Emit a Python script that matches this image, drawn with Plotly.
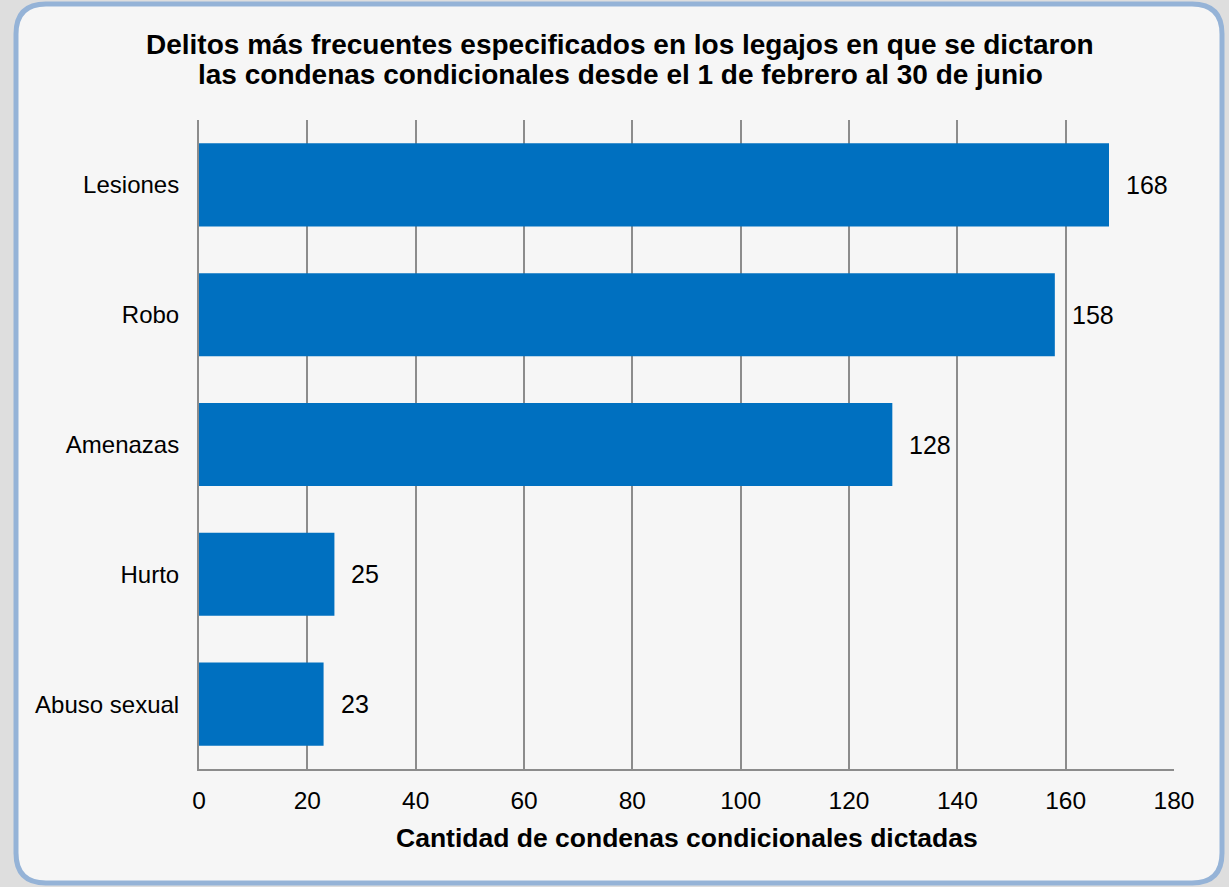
import plotly.graph_objects as go

categories = ["Lesiones", "Robo", "Amenazas", "Hurto", "Abuso sexual"]
values = [168, 158, 128, 25, 23]
x_ticks = [0, 20, 40, 60, 80, 100, 120, 140, 160, 180]

title_lines = ["Delitos más frecuentes especificados en los legajos en que se dictaron",
               "las condenas condicionales desde el 1 de febrero al 30 de junio"]
x_title = "<b>Cantidad de condenas condicionales dictadas</b>"

FONT = "Liberation Sans, Arial, sans-serif"
W, H = 1229, 887
L, R, T, B = 199, 55, 120, 118
PW, PH = W - L - R, H - T - B

def px(xp):
    return (xp - L) / PW

def py(yp):
    return (H - B - yp) / PH

def rounded_rect(x0, y0, x1, y1, r):
    pts = [
        f"M {px(x0 + r)},{py(y0)}",
        f"L {px(x1 - r)},{py(y0)}",
        f"Q {px(x1)},{py(y0)} {px(x1)},{py(y0 + r)}",
        f"L {px(x1)},{py(y1 - r)}",
        f"Q {px(x1)},{py(y1)} {px(x1 - r)},{py(y1)}",
        f"L {px(x0 + r)},{py(y1)}",
        f"Q {px(x0)},{py(y1)} {px(x0)},{py(y1 - r)}",
        f"L {px(x0)},{py(y0 + r)}",
        f"Q {px(x0)},{py(y0)} {px(x0 + r)},{py(y0)}",
        "Z",
    ]
    return " ".join(pts)

fig = go.Figure()
fig.add_trace(go.Bar(
    y=categories, x=values, orientation="h",
    marker=dict(color="#0070c0", line=dict(width=0)),
    hoverinfo="x+y",
))

for c, v in zip(categories, values):
    fig.add_annotation(x=v, y=c, text=str(v), showarrow=False,
                       xanchor="left", xshift=15,
                       font=dict(family=FONT, size=25, color="#000"))

for i, line in enumerate(title_lines):
    fig.add_annotation(xref="paper", yref="paper", x=px(620), y=py(45 + 29 * i),
                       xanchor="center", yanchor="middle", showarrow=False,
                       text=f"<b>{line}</b>",
                       font=dict(family=FONT, size=28, color="#000"))

fig.add_annotation(xref="paper", yref="paper", x=px(687), y=py(838),
                   xanchor="center", yanchor="middle", showarrow=False,
                   text=x_title, font=dict(family=FONT, size=26.5, color="#000"))

fig.add_shape(type="path", xref="paper", yref="paper", layer="below",
              path=rounded_rect(16, 4, 1222, 883, 30),
              fillcolor="#f6f6f6", line=dict(color="#95b3d7", width=5))

fig.update_layout(
    width=W, height=H,
    margin=dict(l=L, r=R, t=T, b=B),
    paper_bgcolor="#dedede",
    plot_bgcolor="rgba(0,0,0,0)",
    font=dict(family=FONT, color="#000"),
    bargap=0.36,
    showlegend=False,
    xaxis=dict(range=[0, 180], tickvals=x_ticks, ticktext=[str(t) for t in x_ticks],
               showgrid=True, gridcolor="#8c8c8c", gridwidth=1.5,
               showline=True, linecolor="#8c8c8c", linewidth=2,
               zeroline=False, ticks="", ticklabelstandoff=9,
               tickfont=dict(size=24.5)),
    yaxis=dict(categoryorder="array", categoryarray=categories[::-1],
               showgrid=False, showline=True, linecolor="#8c8c8c", linewidth=2,
               ticks="", ticklabelstandoff=13, tickfont=dict(size=24)),
)

fig.write_html("out.html", config={"displayModeBar": False},
               post_script="document.body.style.margin='0px';")
